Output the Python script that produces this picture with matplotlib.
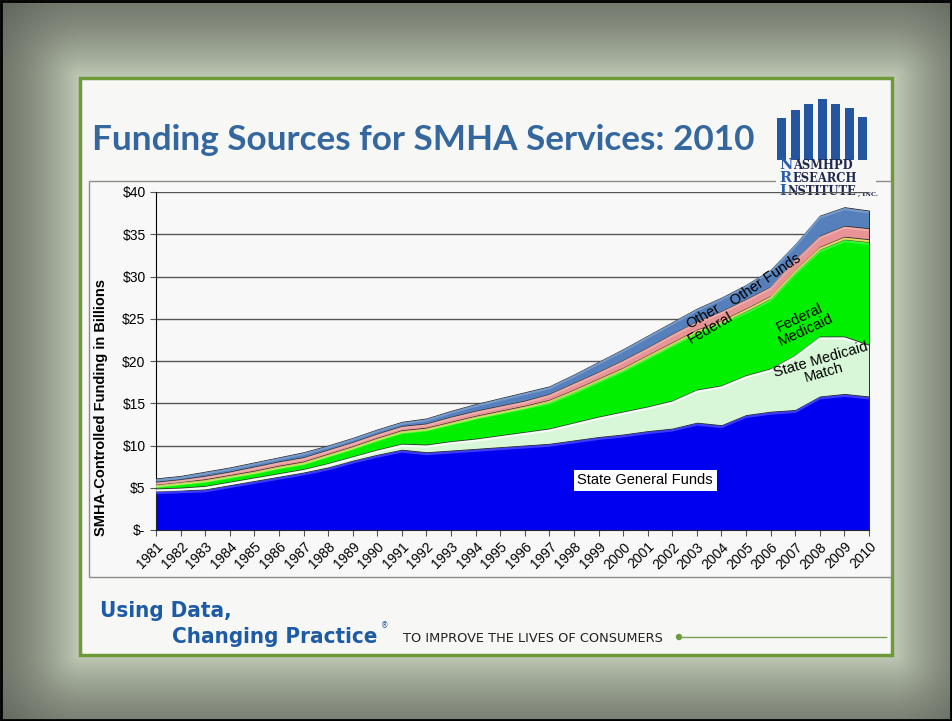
import numpy as np
import matplotlib.pyplot as plt
from matplotlib.patches import Rectangle, Circle

# funding series, billions of dollars
years = list(range(1981, 2011))
state_general = [4.6, 4.7, 4.8, 5.3, 5.8, 6.3, 6.8, 7.4, 8.2, 8.9, 9.5, 9.2, 9.4, 9.6, 9.8,
                 10.0, 10.2, 10.6, 11.0, 11.3, 11.7, 12.0, 12.7, 12.4, 13.6, 14.0, 14.2, 15.8, 16.1, 15.8]
state_match = [0.3, 0.3, 0.4, 0.4, 0.4, 0.4, 0.4, 0.5, 0.5, 0.6, 0.7, 0.9, 1.1, 1.2, 1.4,
               1.6, 1.8, 2.1, 2.4, 2.7, 2.9, 3.3, 3.9, 4.7, 4.7, 5.1, 6.5, 7.1, 6.8, 6.1]
fed_medicaid = [0.4, 0.6, 0.7, 0.7, 0.7, 0.8, 0.8, 1.0, 1.1, 1.3, 1.5, 1.9, 2.2, 2.6, 2.8,
                3.0, 3.2, 3.7, 4.3, 5.0, 5.9, 6.7, 6.9, 7.5, 7.6, 8.3, 9.8, 10.3, 11.5, 12.2]
medicare = [0.1, 0.1, 0.1, 0.1, 0.1, 0.1, 0.1, 0.1, 0.1, 0.1, 0.1, 0.1, 0.1, 0.1, 0.1,
            0.1, 0.2, 0.2, 0.2, 0.2, 0.2, 0.2, 0.2, 0.2, 0.3, 0.3, 0.3, 0.3, 0.3, 0.3]
other_federal = [0.3, 0.3, 0.4, 0.4, 0.5, 0.5, 0.5, 0.5, 0.5, 0.5, 0.5, 0.5, 0.6, 0.6, 0.6,
                 0.6, 0.7, 0.8, 0.8, 0.9, 0.9, 1.0, 1.0, 1.1, 1.1, 1.1, 1.2, 1.3, 1.3, 1.3]
other_funds = [0.4, 0.4, 0.5, 0.5, 0.5, 0.5, 0.6, 0.5, 0.5, 0.5, 0.5, 0.6, 0.7, 0.8, 0.9,
               1.0, 0.9, 1.0, 1.2, 1.3, 1.4, 1.4, 1.5, 1.6, 1.7, 2.0, 1.8, 2.4, 2.2, 2.1]

series = [state_general, state_match, fed_medicaid, medicare, other_federal, other_funds]
colors = ['#0000f0', '#d8f7d8', '#00f000', '#d8c830', '#e89496', '#5680bb']
highlights = ['#4a4aff', '#ffffff', '#40ff40', '#f0e070', '#f4b4b4', '#7fa2d0']

yticks = [0, 5, 10, 15, 20, 25, 30, 35, 40]
ytick_labels = ['$-', '$5', '$10', '$15', '$20', '$25', '$30', '$35', '$40']

W, H = 952, 721
fig = plt.figure(figsize=(9.52, 7.21), dpi=100)

# slide background, drawn in pixel coordinates
bg = fig.add_axes([0, 0, 1, 1], zorder=0)
yy, xx = np.mgrid[0:H, 0:W]
dx = np.clip(np.abs(xx - 486) - 406, 0, None)
dy = np.clip(np.abs(yy - 366) - 288, 0, None)
d = np.hypot(dx, dy)
v = 0.25 + 0.55 * np.exp(-d / 85)
bg.imshow(np.dstack([v * 0.95, v, v * 0.9]), extent=[0, W, H, 0], aspect='auto')
bg.set_xlim(0, W)
bg.set_ylim(H, 0)
bg.axis('off')
bg.add_patch(Rectangle((1, 1), W - 2, H - 2, fill=False, ec='black', lw=2))
bg.add_patch(Rectangle((80, 78), 812, 577, fc='#f7f7f5', ec='#6e9a3a', lw=2.5))
bg.add_patch(Rectangle((89, 181), 802, 396, fc='#f8f8f8', ec='#8c8c8c', lw=1))

bg.text(92, 150, 'Funding Sources for SMHA Services: 2010', fontsize=25.3, fontweight='bold',
        family='Lato', color='#35679f', va='baseline')

# logo
bar_tops = [118, 110, 104, 99, 104, 108, 117]
for i, t in enumerate(bar_tops):
    bg.add_patch(Rectangle((777 + i * 13.5, t), 9, 160 - t, fc='#2456a0', ec='none'))
bg.add_patch(Rectangle((776, 175), 100, 22, fc='#f7f7f5', ec='none', zorder=3))
logo_lines = [('N', 'ASMHPD', 793), ('R', 'ESEARCH', 792), ('I', 'NSTITUTE', 787)]
for j, (first, rest, xr) in enumerate(logo_lines):
    yb = 169 + j * 13
    bg.text(779, yb, first, fontsize=10.5, fontweight='bold', family='DejaVu Serif',
            color='#2a5ca8', va='baseline', zorder=4)
    bg.text(xr, yb, rest, fontsize=8.3, fontweight='bold', family='DejaVu Serif',
            color='#1e2850', va='baseline', zorder=4)
bg.text(858, 195, ', INC.', fontsize=4.5, fontweight='bold', family='DejaVu Serif',
        color='#1e2850', va='baseline', zorder=4)

# footer
bg.text(100, 617, 'Using Data,', fontsize=16, fontweight='bold', family='DejaVu Sans',
        fontstretch='condensed', color='#1d5ba6', va='baseline')
bg.text(172, 643, 'Changing Practice', fontsize=16, fontweight='bold', family='DejaVu Sans',
        fontstretch='condensed', color='#1d5ba6', va='baseline')
bg.text(381, 628, '®', fontsize=5.5, color='#1d5ba6', va='baseline')
bg.text(403, 642, 'TO IMPROVE THE LIVES OF CONSUMERS', fontsize=9.3, family='DejaVu Sans',
        color='#222222', va='baseline')
bg.plot([679, 886], [637, 637], color='#7ba05b', lw=1)
bg.add_patch(Circle((679, 637), 3.2, fc='#6e9a3a', ec='none'))

bg.text(101, 408, 'SMHA-Controlled Funding in Billions', rotation=90, fontsize=10.5,
        fontweight='bold', family='Liberation Sans', ha='center', va='center')

# chart
ax = fig.add_axes([156 / W, 1 - 530 / H, (869 - 156) / W, (530 - 192) / H], zorder=2)
ax.set_facecolor('none')
ax.stackplot(years, *series, colors=colors, edgecolor='#2a2a2a', linewidth=0.7, zorder=3)
cum = np.cumsum(np.array(series), axis=0)
for k in range(len(series)):
    ax.plot(years, cum[k] - 0.22, color=highlights[k], lw=1.6, alpha=0.8, zorder=4)

ax.set_xlim(1981, 2010)
ax.set_ylim(0, 40)
ax.set_yticks(yticks)
ax.set_yticklabels(ytick_labels, family='Liberation Sans', fontsize=10)
ax.set_xticks(years)
ax.set_xticklabels([str(y) for y in years], rotation=45, ha='right', rotation_mode='anchor',
                   family='Liberation Sans', fontsize=10)
ax.tick_params(axis='both', length=4, color='#555555')
ax.tick_params(axis='x', pad=3)
ax.grid(axis='y', color='#555555', lw=1)
ax.set_axisbelow(True)
for s in ['top', 'right']:
    ax.spines[s].set_visible(False)
ax.spines['left'].set_color('black')
ax.spines['bottom'].set_color('black')

lab = dict(family='Liberation Sans', fontsize=10.5, ha='center', va='center', zorder=6)
ax.text(2000.9, 5.9, 'State General Funds',
        bbox=dict(fc='white', ec='none', pad=2.5), **lab)
ax.text(2008.1, 19.4, 'State Medicaid\nMatch', rotation=16, linespacing=1.0, **lab)
ax.text(2007.3, 24.4, 'Federal\nMedicaid', rotation=25, linespacing=1.0, **lab)
ax.text(2003.4, 24.6, 'Other\nFederal', rotation=30, linespacing=1.0, **lab)
ax.text(2005.8, 29.6, 'Other Funds', rotation=34, **lab)

fig.savefig('out.png', dpi=100)
